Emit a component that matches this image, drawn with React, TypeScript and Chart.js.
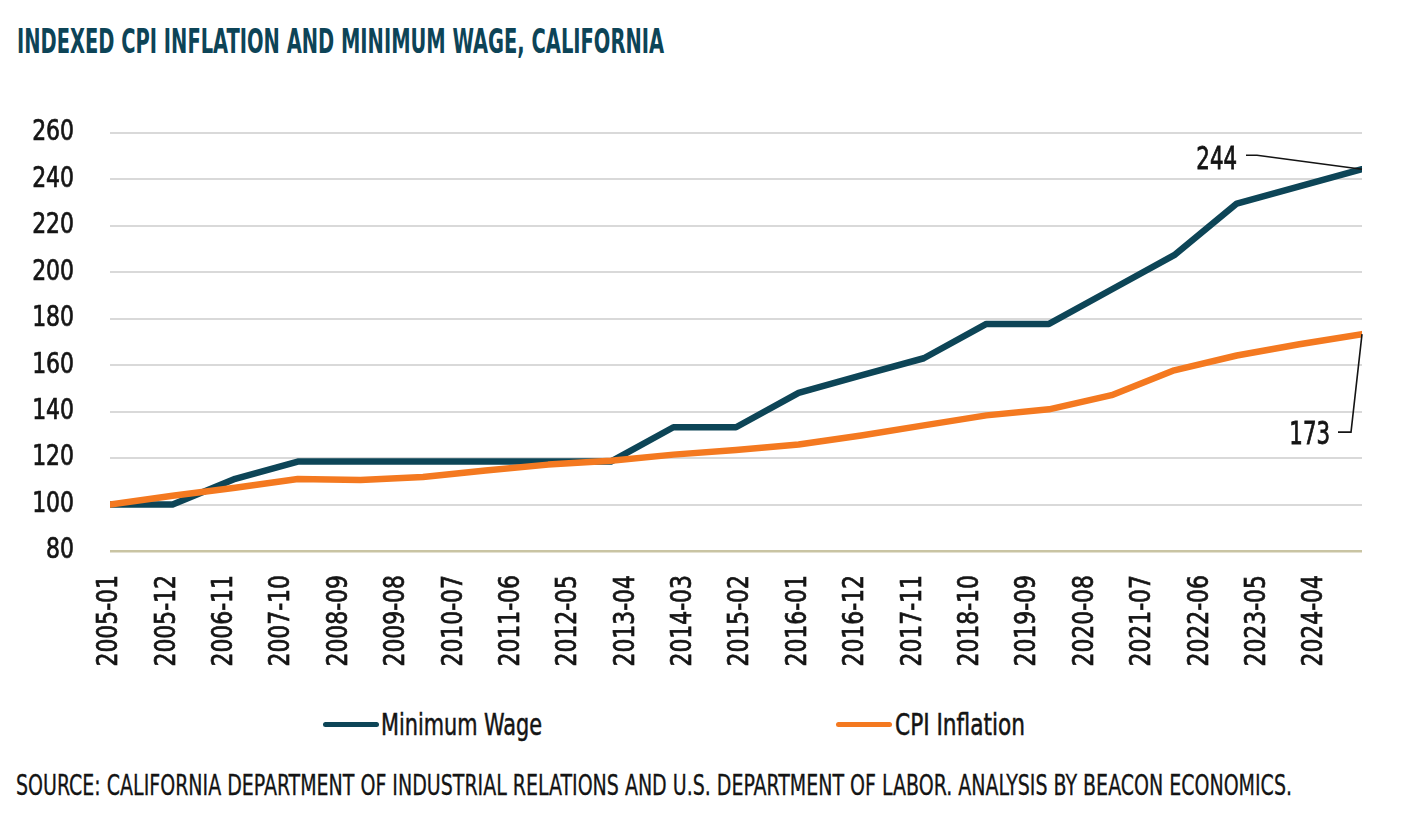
import React, { useEffect, useLayoutEffect, useRef } from "react";
import { Chart, registerables } from "chart.js";

Chart.register(...registerables);

// ---------- data ----------
const years = [2005, 2006, 2007, 2008, 2009, 2010, 2011, 2012, 2013, 2014, 2015, 2016, 2017, 2018, 2019, 2020, 2021, 2022, 2023, 2024, 2025];
const minimumWage = [100, 100, 111.1, 118.5, 118.5, 118.5, 118.5, 118.5, 118.5, 133.3, 133.3, 148.1, 155.6, 163.0, 177.8, 177.8, 192.6, 207.4, 229.6, 237.0, 244.4];
const cpiInflation = [100, 103.8, 107.2, 111.0, 110.6, 111.9, 114.7, 117.2, 118.9, 121.5, 123.5, 125.9, 129.7, 134.1, 138.4, 141.0, 147.1, 157.8, 164.2, 169.0, 173.4];
const xTickLabels = ["2005-01", "2005-12", "2006-11", "2007-10", "2008-09", "2009-08", "2010-07", "2011-06", "2012-05", "2013-04", "2014-03", "2015-02", "2016-01", "2016-12", "2017-11", "2018-10", "2019-09", "2020-08", "2021-07", "2022-06", "2023-05", "2024-04"];
const yMin = 80;
const yMax = 260;
const yStep = 20;

const seriesNames = ["Minimum Wage", "CPI Inflation"];
const seriesColors = ["#0d4557", "#f47920"];

const TITLE = "INDEXED CPI INFLATION AND MINIMUM WAGE, CALIFORNIA";
const SOURCE = "SOURCE: CALIFORNIA DEPARTMENT OF INDUSTRIAL RELATIONS AND U.S. DEPARTMENT OF LABOR. ANALYSIS BY BEACON ECONOMICS.";

const FONT = "'Liberation Sans Narrow', 'DejaVu Sans Condensed', 'Roboto', sans-serif";
const TEXT = "#141414";
const TICK_SCALE = 0.87; // horizontal squeeze of canvas text (condensed look)
const NOTE_SCALE = 0.74;

// month index since first year's January
const monthIndex = (label: string) => {
  const [y, m] = label.split("-").map(Number);
  return (y - years[0]) * 12 + (m - 1);
};

// squeezes canvas text horizontally around its anchor to mimic a condensed face
const narrowText = {
  id: "narrowText",
  beforeInit(chart: any) {
    const ctx: any = chart.ctx;
    if (ctx.__patched) return;
    ctx.__scaleX = 1;
    const wrap = (orig: any) =>
      function (this: any, text: string, x: number, y: number, maxWidth?: number) {
        const k = this.__scaleX;
        if (k === 1) return maxWidth === undefined ? orig.call(this, text, x, y) : orig.call(this, text, x, y, maxWidth);
        this.save();
        this.translate(x, y);
        this.scale(k, 1);
        orig.call(this, text, 0, 0);
        this.restore();
      };
    ctx.fillText = wrap(ctx.fillText);
    ctx.strokeText = wrap(ctx.strokeText);
    ctx.__patched = true;
  },
  beforeDraw(chart: any) {
    chart.ctx.__scaleX = TICK_SCALE;
  },
  afterDraw(chart: any) {
    chart.ctx.__scaleX = 1;
  },
};

const endLabels = {
  id: "endLabels",
  afterDatasetsDraw(chart: any) {
    const ctx = chart.ctx as any;
    ctx.save();
    ctx.__scaleX = NOTE_SCALE;
    ctx.font = `32px ${FONT}`;
    ctx.fillStyle = TEXT;
    ctx.strokeStyle = TEXT;
    ctx.textAlign = "right";
    ctx.textBaseline = "alphabetic";

    const mw = chart.getDatasetMeta(0).data;
    const pm = mw[mw.length - 1];
    const vm = String(Math.round(minimumWage[minimumWage.length - 1]));
    const cp = chart.getDatasetMeta(1).data;
    const pc = cp[cp.length - 1];
    const vc = String(Math.round(cpiInflation[cpiInflation.length - 1]));

    ctx.lineWidth = 0.8;
    ctx.fillText(vm, pm.x - 125, pm.y);
    ctx.strokeText(vm, pm.x - 125, pm.y);
    ctx.fillText(vc, pc.x - 32, pc.y + 110);
    ctx.strokeText(vc, pc.x - 32, pc.y + 110);

    ctx.lineWidth = 1.6;
    ctx.beginPath();
    ctx.moveTo(pm.x - 116, pm.y - 14);
    ctx.lineTo(pm.x - 105, pm.y - 14);
    ctx.lineTo(pm.x, pm.y);
    ctx.stroke();

    ctx.beginPath();
    ctx.moveTo(pc.x - 24, pc.y + 98);
    ctx.lineTo(pc.x - 11, pc.y + 98);
    ctx.lineTo(pc.x, pc.y);
    ctx.stroke();
    ctx.__scaleX = TICK_SCALE;
    ctx.restore();
  },
};

function FitText(props: { text: string; left: number; top: number; width: number; size: number; weight?: number; color?: string; stroke?: number }) {
  const ref = useRef<HTMLSpanElement>(null);
  useLayoutEffect(() => {
    const el = ref.current;
    if (!el) return;
    el.style.transform = "none";
    const w = el.getBoundingClientRect().width;
    if (w > 0) el.style.transform = `scaleX(${props.width / w})`;
  }, [props.text, props.width]);
  return (
    <span
      ref={ref}
      style={{
        position: "absolute",
        left: props.left,
        top: props.top,
        fontSize: props.size,
        fontWeight: props.weight ?? 400,
        color: props.color ?? TEXT,
        fontFamily: FONT,
        lineHeight: 1,
        whiteSpace: "nowrap",
        transformOrigin: "left top",
        WebkitTextStroke: props.stroke ? `${props.stroke}px ${props.color ?? TEXT}` : undefined,
      }}
    >
      {props.text}
    </span>
  );
}

export default function App() {
  const canvasRef = useRef<HTMLCanvasElement>(null);

  useEffect(() => {
    if (!canvasRef.current) return;
    const xs = years.map((y) => monthIndex(`${y}-01`));
    const tickFont = { family: FONT, size: 28 };
    const chart = new Chart(canvasRef.current, {
      type: "line",
      data: {
        datasets: [
          {
            label: seriesNames[0],
            data: minimumWage.map((v, i) => ({ x: xs[i], y: v })),
            borderColor: seriesColors[0],
            backgroundColor: seriesColors[0],
            borderWidth: 6.5,
            pointRadius: 0,
            borderJoinStyle: "round",
            borderCapStyle: "round",
            order: 1,
          },
          {
            label: seriesNames[1],
            data: cpiInflation.map((v, i) => ({ x: xs[i], y: v })),
            borderColor: seriesColors[1],
            backgroundColor: seriesColors[1],
            borderWidth: 6.5,
            pointRadius: 0,
            borderJoinStyle: "round",
            borderCapStyle: "round",
            order: 0,
          },
        ],
      },
      options: {
        responsive: false,
        animation: false,
        events: [],
        layout: { padding: { left: 0, right: 48, top: 133, bottom: 0 } },
        plugins: {
          legend: { display: false },
          tooltip: { enabled: false },
          title: { display: false },
        },
        scales: {
          x: {
            type: "linear",
            min: 0,
            max: monthIndex(`${years[years.length - 1]}-01`),
            bounds: "data",
            grid: { display: false, drawTicks: false },
            border: { display: false },
            afterBuildTicks: (s: any) => {
              s.ticks = xTickLabels.map((l) => ({ value: monthIndex(l) }));
            },
            afterFit: (s: any) => {
              s.height = 149;
            },
            ticks: {
              autoSkip: false,
              minRotation: 90,
              maxRotation: 90,
              padding: 24,
              color: TEXT,
              textStrokeColor: TEXT,
              textStrokeWidth: 0.7,
              font: tickFont,
              callback: (_v: any, i: number) => xTickLabels[i],
            },
          },
          y: {
            min: yMin,
            max: yMax,
            afterFit: (s: any) => {
              s.width = 110;
            },
            grid: {
              drawTicks: false,
              lineWidth: (c: any) => (c.tick && c.tick.value === yMin ? 2.5 : 2),
              color: (c: any) => (c.tick && c.tick.value === yMin ? "#c9c4a3" : "#d9d9d9"),
            },
            border: { display: false },
            ticks: {
              stepSize: yStep,
              padding: 36,
              color: TEXT,
              textStrokeColor: TEXT,
              textStrokeWidth: 0.7,
              font: tickFont,
            },
          },
        },
      },
      plugins: [narrowText, endLabels],
    } as any);
    return () => chart.destroy();
  }, []);

  return (
    <div style={{ position: "absolute", left: 0, top: 0, width: 1410, height: 838, background: "#fff", overflow: "hidden" }}>
      <FitText text={TITLE} left={17} top={24} width={647} size={34} weight={700} color="#0d4457" />
      <canvas ref={canvasRef} width={1410} height={700} style={{ position: "absolute", left: 0, top: 0, width: 1410, height: 700 }} />
      <div style={{ position: "absolute", left: 323, top: 721.5, width: 56, height: 5, borderRadius: 2.5, background: seriesColors[0] }} />
      <FitText text={seriesNames[0]} left={381} top={710} width={161} size={30} stroke={0.5} />
      <div style={{ position: "absolute", left: 836, top: 721.5, width: 56, height: 5, borderRadius: 2.5, background: seriesColors[1] }} />
      <FitText text={seriesNames[1]} left={895} top={710} width={130} size={30} stroke={0.5} />
      <FitText text={SOURCE} left={16} top={772} width={1276} size={27.5} stroke={0.3} />
    </div>
  );
}
